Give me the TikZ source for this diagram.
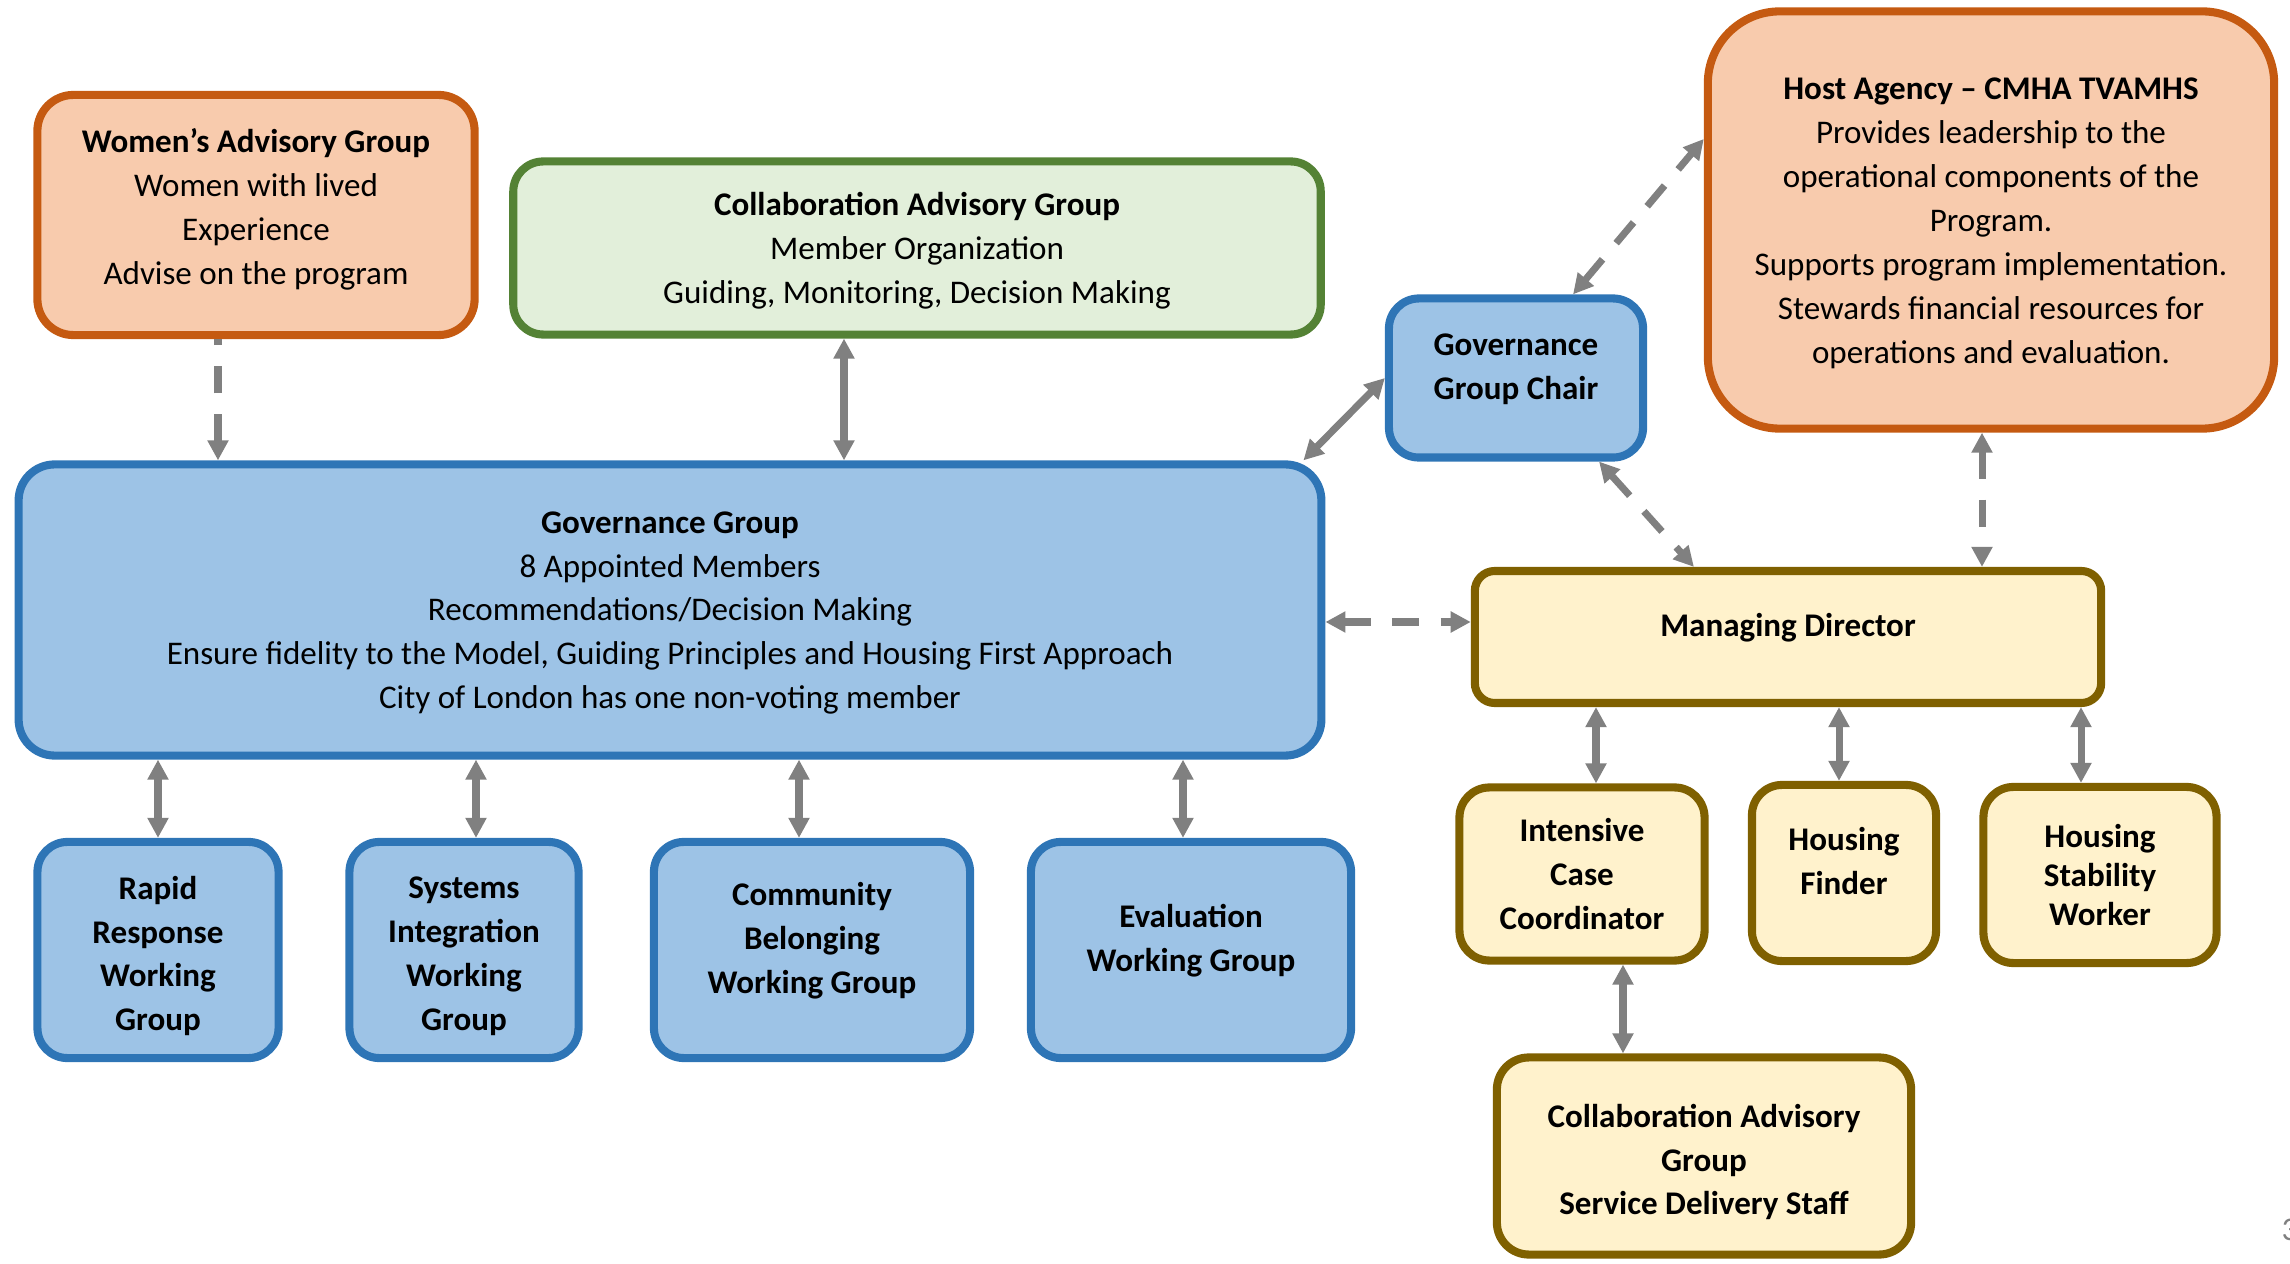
\documentclass[tikz,border=0pt]{standalone}
\usepackage{fontspec}
\setmainfont{Carlito}
\usepackage{tikz}
\usetikzlibrary{arrows.meta}
\definecolor{orangeline}{HTML}{C55A11}
\definecolor{orangefill}{HTML}{F8CBAD}
\definecolor{greenline}{HTML}{548235}
\definecolor{greenfill}{HTML}{E2EFDA}
\definecolor{blueline}{HTML}{2E75B6}
\definecolor{bluefill}{HTML}{9DC3E6}
\definecolor{goldline}{HTML}{7F6000}
\definecolor{goldfill}{HTML}{FFF2CC}
\definecolor{linkgray}{HTML}{808080}

\begin{document}
\begin{tikzpicture}[x=0.01cm,y=-0.01cm,>={Triangle[length=5.7pt,width=5.7pt]},
  box/.style={draw,line width=2.3pt,inner sep=0pt},
  every label/.style={align=center,inner sep=0pt,font=\fontsize{9.4}{12.5}\selectfont},
  label distance=0pt,
  orangebox/.style={box,draw=orangeline,fill=orangefill},
  greenbox/.style={box,draw=greenline,fill=greenfill},
  bluebox/.style={box,draw=blueline,fill=bluefill},
  goldbox/.style={box,draw=goldline,fill=goldfill},
  link/.style={<->,draw=linkgray,line width=2pt},
  dlink/.style={link,dash pattern=on 7.7pt off 6pt}]
\useasboundingbox (0,0) rectangle (2290,1264);

\node[orangebox,rounded corners=0.36cm,minimum width=4.37cm,minimum height=2.4cm,
  label={[yshift=0.06cm]center:\textbf{Women’s Advisory Group}\\Women with lived\\Experience\\Advise on the program}]
  (women) at (256,215) {};
\node[greenbox,rounded corners=0.3cm,minimum width=8.07cm,minimum height=1.73cm,
  label={[yshift=-0.03cm]center:\textbf{Collaboration Advisory Group}\\Member Organization\\Guiding, Monitoring, Decision Making}]
  (collab) at (917,248) {};
\node[bluebox,rounded corners=0.36cm,minimum width=13.02cm,minimum height=2.91cm,
  label={[yshift=-0.03cm]center:\textbf{Governance Group}\\8 Appointed Members\\Recommendations/Decision Making\\
   Ensure fidelity to the Model, Guiding Principles and Housing First Approach\\
   City of London has one non-voting member}]
  (gov) at (670,610) {};
\node[bluebox,rounded corners=0.3cm,minimum width=2.54cm,minimum height=1.59cm,
  label={[yshift=0.09cm]center:\textbf{Governance}\\\textbf{Group Chair}}]
  (chair) at (1516,378) {};
\node[orangebox,rounded corners=0.72cm,minimum width=5.66cm,minimum height=4.17cm,
  label={[yshift=-0.03cm]center:\textbf{Host Agency – CMHA TVAMHS}\\Provides leadership to the\\operational components of the\\Program.\\
   Supports program implementation.\\Stewards financial resources for\\operations and evaluation.}]
  (host) at (1991,220) {};
\node[goldbox,rounded corners=0.2cm,minimum width=6.26cm,minimum height=1.32cm,
  label={[yshift=0.09cm]center:\textbf{Managing Director}}]
  (md) at (1788,637) {};

\node[bluebox,rounded corners=0.3cm,minimum width=2.41cm,minimum height=2.16cm,
  label={[yshift=-0.06cm]center:\textbf{Rapid}\\\textbf{Response}\\\textbf{Working}\\\textbf{Group}}]
  (rapid) at (158,950) {};
\node[bluebox,rounded corners=0.3cm,minimum width=2.29cm,minimum height=2.16cm,
  label={[yshift=-0.06cm]center:\textbf{Systems}\\\textbf{Integration}\\\textbf{Working}\\\textbf{Group}}]
  (systems) at (464,950) {};
\node[bluebox,rounded corners=0.3cm,minimum width=3.16cm,minimum height=2.16cm,
  label={[yshift=0.09cm]center:\textbf{Community}\\\textbf{Belonging}\\\textbf{Working Group}}]
  (community) at (812,950) {};
\node[bluebox,rounded corners=0.3cm,minimum width=3.2cm,minimum height=2.16cm,
  label={[yshift=0.09cm]center:\textbf{Evaluation}\\\textbf{Working Group}}]
  (evaluation) at (1191,950) {};

\node[goldbox,rounded corners=0.3cm,minimum width=2.45cm,minimum height=1.73cm,
  label={center:\textbf{Intensive}\\\textbf{Case}\\\textbf{Coordinator}}]
  (icc) at (1582,874) {};
\node[goldbox,rounded corners=0.3cm,minimum width=1.84cm,minimum height=1.76cm,
  label={[yshift=0.12cm]center:\textbf{Housing}\\\textbf{Finder}}]
  (finder) at (1844,873) {};
\node[goldbox,rounded corners=0.3cm,minimum width=2.33cm,minimum height=1.76cm,
  label={[font=\fontsize{9.4}{11.2}\selectfont]center:\textbf{Housing}\\\textbf{Stability}\\\textbf{Worker}}]
  (stability) at (2100,875) {};
\node[goldbox,rounded corners=0.32cm,minimum width=4.14cm,minimum height=1.97cm,
  label={[yshift=-0.06cm]center:\textbf{Collaboration Advisory}\\\textbf{Group}\\\textbf{Service Delivery Staff}}]
  (staff) at (1704,1156) {};

\node[text=linkgray,anchor=west,inner sep=0pt,font=\fontsize{9.4}{11}\selectfont] (pagenum) at (2281,1230) {3};

\draw[dlink,<-] (gov.north -| 218,0) -- (women.south -| 218,0);
\draw[link] (collab.south -| 844,0) -- (gov.north -| 844,0);
\draw[link] ([xshift=-0.22cm]gov.north east) -- (chair.west);
\draw[dlink] ([xshift=0.57cm]chair.north) -- ([yshift=0.81cm]host.west);
\draw[dlink] ([xshift=0.83cm]chair.south) -- ([xshift=-0.94cm]md.north);
\draw[dlink] (host.south -| 1982,0) -- (md.north -| 1982,0);
\draw[dlink] (gov.east |- 0,622) -- (md.west |- 0,622);

\draw[link] (gov.south -| 158,0) -- (rapid.north -| 158,0);
\draw[link] (gov.south -| 476,0) -- (systems.north -| 476,0);
\draw[link] (gov.south -| 799,0) -- (community.north -| 799,0);
\draw[link] (gov.south -| 1183,0) -- (evaluation.north -| 1183,0);

\draw[link] (md.south -| 1596,0) -- (icc.north -| 1596,0);
\draw[link] (md.south -| 1839,0) -- (finder.north -| 1839,0);
\draw[link] (md.south -| 2081,0) -- (stability.north -| 2081,0);
\draw[link] (icc.south -| 1623,0) -- (staff.north -| 1623,0);
\end{tikzpicture}
\end{document}
